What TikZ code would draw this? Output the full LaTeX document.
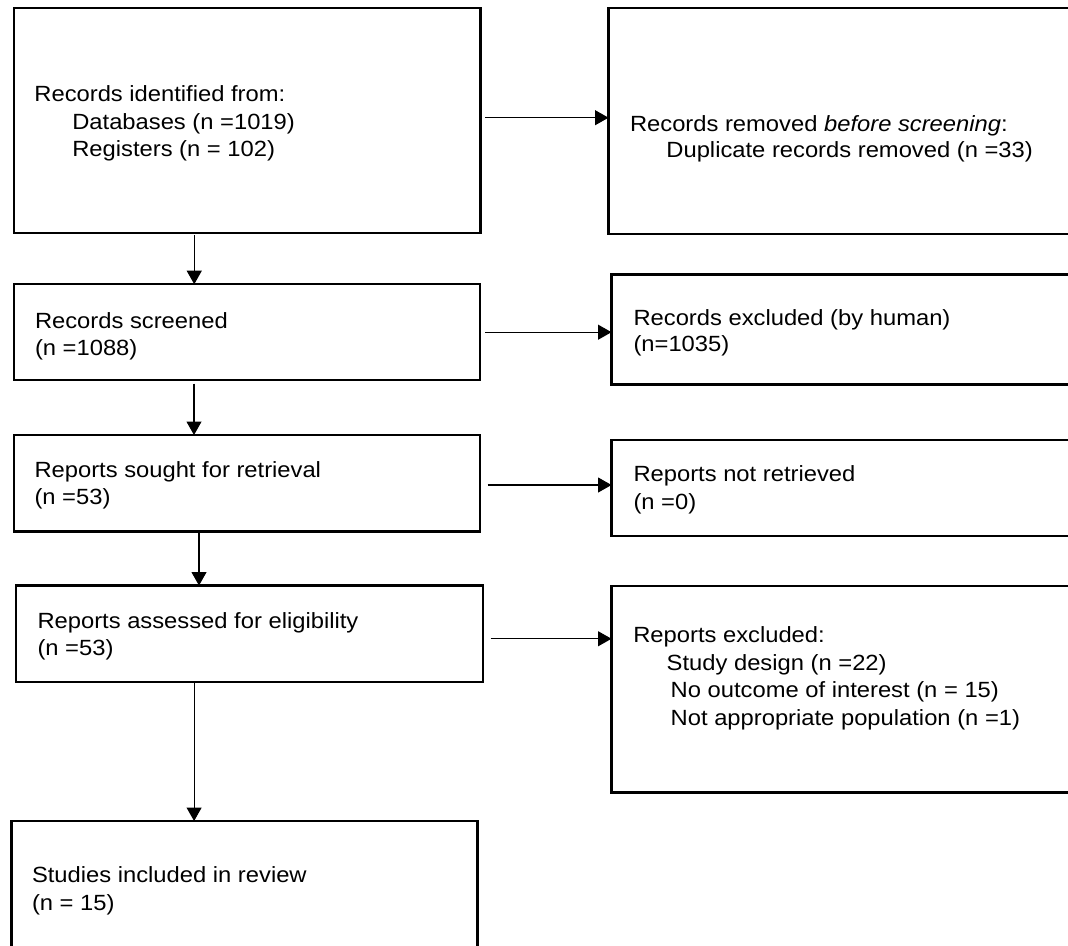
\documentclass[tikz,border=0pt]{standalone}
\usepackage{fontspec}
\setmainfont[FakeStretch=1.08]{Liberation Sans}
\usetikzlibrary{arrows.meta}
\begin{document}
\begin{tikzpicture}[x=1pt,y=-1pt,
  box/.style={draw, line width=2.5pt, inner sep=0pt, outer sep=0pt},
  lbl/.style={anchor=base west, inner sep=0pt, outer sep=0pt, font=\fontsize{22}{27}\selectfont},
  arr/.style={line width=1.1pt, -{Triangle[length=13.5pt,width=15pt]}}]
\useasboundingbox (0,0) rectangle (1068,945);
\clip (0,0) rectangle (1068,945);
% boxes
\node[box, minimum width=466.5pt, minimum height=225pt] (b1) at (247.25,120.5) {};
\node[box, minimum width=481.5pt, minimum height=226pt] (b2) at (849.25,121) {};
\node[box, minimum width=466pt, minimum height=96pt] (b3) at (247,332.2) {};
\node[box, minimum width=478.5pt, minimum height=110pt] (b4) at (850.75,329.5) {};
\node[box, minimum width=466pt, minimum height=96.5pt] (b5) at (247,483.25) {};
\node[box, minimum width=478.5pt, minimum height=96pt] (b6) at (850.75,488) {};
\node[box, minimum width=467pt, minimum height=96.5pt] (b7) at (249.5,633.75) {};
\node[box, minimum width=478.5pt, minimum height=206.5pt] (b8) at (850.75,689.25) {};
\node[box, minimum width=466pt, minimum height=139pt] (b9) at (244.5,890.5) {};
% texts
\node[lbl] (t1a) at (34.4,101.7) {Records identified from:};
\node[lbl] (t1b) at (72.3,129.3) {Databases (n =1019)};
\node[lbl] (t1c) at (72.3,156.7) {Registers (n = 102)};
\node[lbl] (t2a) at (630,131) {Records removed \textit{before screening}:};
\node[lbl] (t2b) at (666.4,157) {Duplicate records removed (n =33)};
\node[lbl] (t3a) at (35,328.3) {Records screened};
\node[lbl] (t3b) at (35,355.3) {(n =1088)};
\node[lbl] (t4a) at (633.5,325) {Records excluded (by human)};
\node[lbl] (t4b) at (633.5,351.7) {(n=1035)};
\node[lbl] (t5a) at (34.5,477) {Reports sought for retrieval};
\node[lbl] (t5b) at (34.5,504) {(n =53)};
\node[lbl] (t6a) at (633.5,481.7) {Reports not retrieved};
\node[lbl] (t6b) at (633.5,509) {(n =0)};
\node[lbl] (t7a) at (37.5,628.3) {Reports assessed for eligibility};
\node[lbl] (t7b) at (37.5,655) {(n =53)};
\node[lbl] (t8a) at (633.3,642.7) {Reports excluded:};
\node[lbl] (t8b) at (666.7,670) {Study design (n =22)};
\node[lbl] (t8c) at (670.7,697.5) {No outcome of interest (n = 15)};
\node[lbl] (t8d) at (670.7,725.5) {Not appropriate population (n =1)};
\node[lbl] (t9a) at (32,882.7) {Studies included in review};
\node[lbl] (t9b) at (32,910) {(n = 15)};
% horizontal arrows
\draw[arr] ([xshift=4.5pt,yshift=2.8pt]b1.east) -- ([yshift=2.8pt]b1.east -| b2.west);
\draw[arr] ([xshift=5pt]b3.east) -- (b3.east -| b4.west);
\draw[arr] ([xshift=7.7pt,yshift=-1.75pt]b5.east) -- ([yshift=-1.75pt]b5.east -| b6.west);
\draw[arr] ([xshift=7.5pt,yshift=-5pt]b7.east) -- ([yshift=-5pt]b7.east -| b8.west);
% vertical arrows
\draw[arr] ([xshift=-53pt,yshift=-2pt]b1.south) -- ([xshift=-53pt]b1.south |- b3.north);
\draw[arr] ([xshift=-53pt,yshift=-3.5pt]b3.south) -- ([xshift=-53pt]b3.south |- b5.north);
\draw[arr] ([xshift=-48pt,yshift=-1.5pt]b5.south) -- ([xshift=-48pt]b5.south |- b7.north);
\draw[arr] ([xshift=-55.4pt,yshift=-1pt]b7.south) -- ([xshift=-55.4pt]b7.south |- b9.north);
\end{tikzpicture}
\end{document}
